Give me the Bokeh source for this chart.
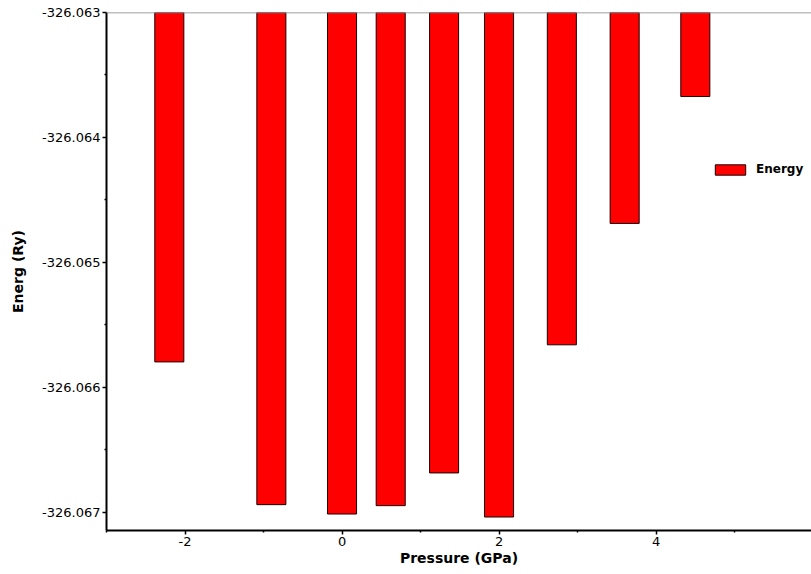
from bokeh.plotting import figure
from bokeh.models import (ColumnDataSource, Range1d, FixedTicker, PrintfTickFormatter,
                          Legend, LegendItem, Span)
from bokeh.embed import file_html
from bokeh.resources import INLINE

# ---- data ----
pressure = [-2.2, -0.9, 0.0, 0.62, 1.3, 2.0, 2.8, 3.6, 4.5]
energy = [-326.065798, -326.066941, -326.067016, -326.066949, -326.066687,
          -326.067040, -326.065661, -326.064689, -326.063673]
series_name = "Energy"
x_ticks = [-2, 0, 2, 4, 6]
x_minor = [-3, -1, 1, 3, 5]
y_ticks = [-326.067, -326.066, -326.065, -326.064, -326.063]
y_minor = [-326.0675, -326.0665, -326.0655, -326.0645, -326.0635]
x_title = "Pressure (GPa)"
y_title = "Energ (Ry)"

Y_TOP = -326.063
Y_BOTTOM = -326.067148

src = ColumnDataSource(dict(x=pressure, bottom=energy, top=[Y_TOP] * len(energy)))

p = figure(width=811, height=574, output_backend="svg", toolbar_location=None,
           x_range=Range1d(-3, 5.98), y_range=Range1d(Y_BOTTOM, Y_TOP),
           min_border_left=106, min_border_right=0, min_border_top=12, min_border_bottom=44)

p.xgrid.visible = False
p.ygrid.visible = False
p.outline_line_color = None
p.background_fill_color = "white"
p.border_fill_color = "white"

r = p.vbar(x="x", bottom="bottom", top="top", width=0.37, source=src,
           fill_color="#ff0000", line_color="#1a0000", line_width=1)

p.add_layout(Span(location=Y_TOP, dimension="width", line_color="#808080", line_width=1.5))

for ax in (p.xaxis[0], p.yaxis[0]):
    ax.axis_line_color = "black"
    ax.axis_line_width = 2
    ax.major_tick_line_color = "black"
    ax.minor_tick_line_color = "black"
    ax.major_tick_line_width = 1.5
    ax.minor_tick_line_width = 1.5
    ax.major_tick_in = 0
    ax.major_tick_out = 4
    ax.minor_tick_in = 0
    ax.minor_tick_out = 2
    ax.major_label_text_font = "DejaVu Sans"
    ax.major_label_text_font_size = "13px"
    ax.major_label_text_color = "black"
    ax.axis_label_text_font = "DejaVu Sans"
    ax.axis_label_text_font_size = "14px"
    ax.axis_label_text_font_style = "bold"
    ax.axis_label_text_color = "black"
    ax.major_label_standoff = 2

p.xaxis[0].ticker = FixedTicker(ticks=x_ticks, minor_ticks=x_minor)
p.yaxis[0].ticker = FixedTicker(ticks=y_ticks, minor_ticks=y_minor)
p.xaxis[0].formatter = PrintfTickFormatter(format="%d")
p.yaxis[0].formatter = PrintfTickFormatter(format="%.3f")
p.xaxis[0].axis_label = x_title
p.yaxis[0].axis_label = y_title
p.xaxis[0].axis_label_standoff = 1
p.yaxis[0].axis_label_standoff = 13

legend = Legend(items=[LegendItem(label=series_name, renderers=[r])],
                location=(605, 354), orientation="vertical",
                glyph_width=38, glyph_height=13, label_standoff=7,
                label_text_font="DejaVu Sans", label_text_font_size="12px",
                label_text_font_style="bold", label_text_color="black",
                label_height=13, padding=0, spacing=0, margin=0,
                border_line_alpha=0, background_fill_alpha=0)
p.add_layout(legend, "center")

open("out.html", "w").write(file_html(p, INLINE))
